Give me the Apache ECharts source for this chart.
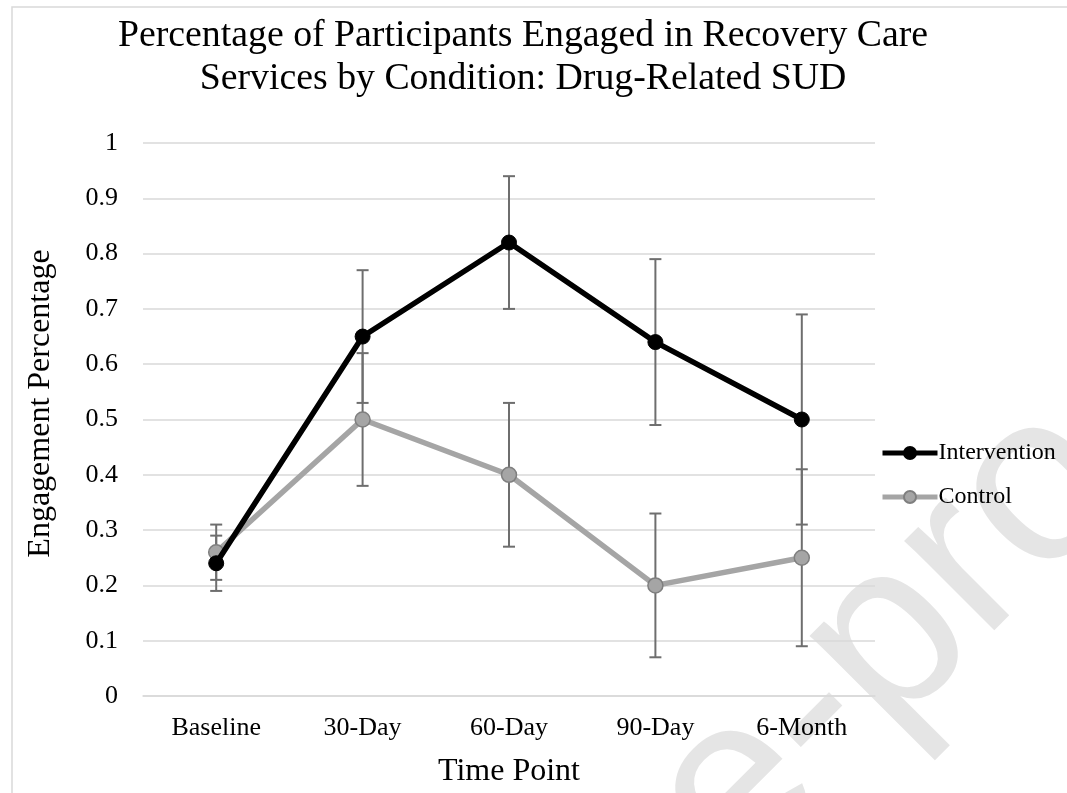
<!DOCTYPE html>
<html>
<head>
<meta charset="utf-8">
<script src="https://cdn.jsdelivr.net/npm/echarts@6/dist/echarts.min.js"></script>
<style>
  html, body { margin: 0; padding: 0; background: #fff; }
  #chart { width: 1067px; height: 793px; }
</style>
</head>
<body>
<div id="chart"></div>
<script>
// Time points on the x axis
const timePoints = ['Baseline', '30-Day', '60-Day', '90-Day', '6-Month'];

// Proportion engaged in recovery care services
const interventionValues = [0.24, 0.65, 0.82, 0.64, 0.50];
const controlValues = [0.26, 0.50, 0.40, 0.20, 0.25];

// Error bar half-widths
const interventionErr = [0.05, 0.12, 0.12, 0.15, 0.19];
const controlErr = [0.05, 0.12, 0.13, 0.13, 0.16];

// Y tick labels
const yTickLabels = ['0', '0.1', '0.2', '0.3', '0.4', '0.5', '0.6', '0.7', '0.8', '0.9', '1'];

const SERIF = '"Liberation Serif", "Times New Roman", serif';

function errorData(values, errs) {
  return values.map((v, i) => [i, +(v - errs[i]).toFixed(3), +(v + errs[i]).toFixed(3)]);
}

function renderErrorBar(params, api) {
  const x = api.value(0);
  const lo = api.coord([x, api.value(1)]);
  const hi = api.coord([x, api.value(2)]);
  const half = 6;
  const style = { stroke: '#6e6e6e', lineWidth: 2 };
  return {
    type: 'group',
    children: [
      { type: 'line', shape: { x1: lo[0], y1: lo[1], x2: hi[0], y2: hi[1] }, style },
      { type: 'line', shape: { x1: lo[0] - half, y1: lo[1], x2: lo[0] + half, y2: lo[1] }, style },
      { type: 'line', shape: { x1: hi[0] - half, y1: hi[1], x2: hi[0] + half, y2: hi[1] }, style }
    ]
  };
}

const chart = echarts.init(document.getElementById('chart'), null, { renderer: 'canvas' });

chart.setOption({
  backgroundColor: '#ffffff',
  animation: false,
  textStyle: { fontFamily: SERIF },
  title: {
    text: 'Percentage of Participants Engaged in Recovery Care\nServices by Condition: Drug-Related SUD',
    left: 518,
    top: 10,
    textAlign: 'center',
    textStyle: {
      fontFamily: SERIF,
      fontSize: 37.8,
      fontWeight: 'normal',
      color: '#000',
      lineHeight: 43
    }
  },
  graphic: [
    {
      // diagonal "Journal Pre-proof" stamp behind the plot
      type: 'text',
      silent: true,
      z: -10,
      x: -83,
      y: 1614,
      rotation: Math.PI / 4,
      style: {
        text: 'Journal Pre-proof',
        x: 0,
        y: 0,
        align: 'left',
        verticalAlign: 'middle',
        font: '240px "Liberation Sans", Arial, sans-serif',
        fill: '#e5e5e5'
      }
    },
    {
      type: 'rect',
      silent: true,
      z: -5,
      shape: { x: 12, y: 7, width: 1200, height: 900 },
      style: { fill: 'none', stroke: '#d9d9d9', lineWidth: 1.5 }
    }
  ],
  legend: {
    orient: 'vertical',
    left: 880,
    top: 440,
    padding: 0,
    itemWidth: 55,
    itemHeight: 15,
    itemGap: 18,
    data: ['Intervention', 'Control'],
    lineStyle: { width: 5 },
    textStyle: { fontFamily: SERIF, fontSize: 24, lineHeight: 26, color: '#000', padding: [0, 0, 0, -4] }
  },
  grid: {
    left: 143,
    right: 192,
    top: 143,
    bottom: 93,
    containLabel: false
  },
  xAxis: {
    type: 'category',
    data: timePoints,
    boundaryGap: true,
    name: 'Time Point',
    nameLocation: 'middle',
    nameGap: 60,
    nameTextStyle: { fontFamily: SERIF, fontSize: 32, color: '#000' },
    axisLine: { show: true, lineStyle: { color: '#d9d9d9', width: 1.5 } },
    axisTick: { show: false },
    axisLabel: { margin: 19, fontFamily: SERIF, fontSize: 26, color: '#000' }
  },
  yAxis: {
    type: 'value',
    min: 0,
    max: 1,
    interval: 0.1,
    name: 'Engagement Percentage',
    nameLocation: 'middle',
    nameGap: 86,
    nameTextStyle: { fontFamily: SERIF, fontSize: 32, color: '#000', padding: [0, 0, 0, 32] },
    axisLine: { show: false },
    axisTick: { show: false },
    axisLabel: {
      margin: 25,
      fontFamily: SERIF,
      fontSize: 26,
      color: '#000',
      formatter: (v) => yTickLabels[Math.round(v * 10)]
    },
    splitLine: { show: true, lineStyle: { color: '#d9d9d9', width: 1.5 } }
  },
  series: [
    {
      name: 'Intervention error',
      type: 'custom',
      renderItem: renderErrorBar,
      data: errorData(interventionValues, interventionErr),
      encode: { x: 0, y: [1, 2] },
      z: 1,
      silent: true
    },
    {
      name: 'Control error',
      type: 'custom',
      renderItem: renderErrorBar,
      data: errorData(controlValues, controlErr),
      encode: { x: 0, y: [1, 2] },
      z: 1,
      silent: true
    },
    {
      name: 'Control',
      type: 'line',
      data: controlValues,
      z: 3,
      symbol: 'circle',
      symbolSize: 15,
      lineStyle: { color: '#a5a5a5', width: 5.5 },
      itemStyle: { color: '#a5a5a5', borderColor: '#7f7f7f', borderWidth: 1.5 }
    },
    {
      name: 'Intervention',
      type: 'line',
      data: interventionValues,
      z: 4,
      symbol: 'circle',
      symbolSize: 15,
      lineStyle: { color: '#000000', width: 5.5 },
      itemStyle: { color: '#000000', borderColor: '#000000', borderWidth: 1 }
    }
  ]
});
</script>
</body>
</html>
